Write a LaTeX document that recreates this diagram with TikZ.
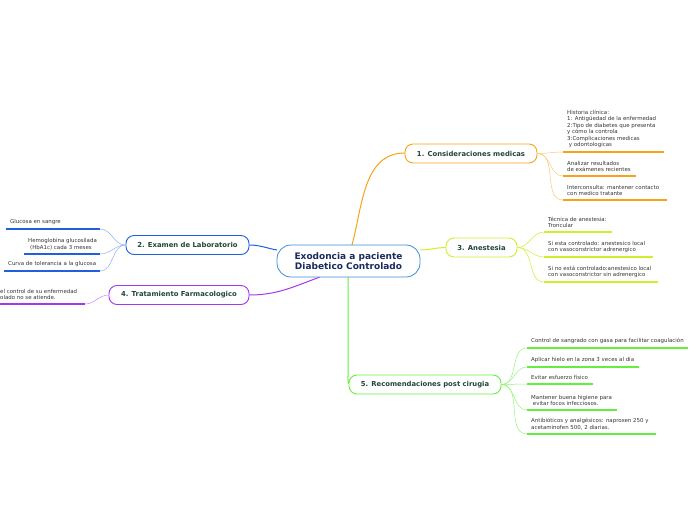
\documentclass[tikz,border=0pt]{standalone}
\usepackage{fontspec}
\setmainfont{DejaVu Sans}
\definecolor{rootline}{HTML}{3C8FD8}
\definecolor{roottext}{HTML}{1B2A5E}
\definecolor{topictext}{HTML}{21463A}
\definecolor{leaftext}{HTML}{333333}
\definecolor{orng}{HTML}{F7A21B}
\definecolor{blu}{HTML}{1F5FE0}
\definecolor{ylw}{HTML}{CFEF2E}
\definecolor{prpl}{HTML}{A636EE}
\definecolor{grn}{HTML}{66EE3F}
\tikzset{
  topic/.style={draw, line width=0.9pt, rounded corners=8pt, fill=white,
    font=\bfseries\fontsize{6.85}{7.5}\selectfont, text=topictext,
    minimum height=19pt, inner sep=2pt},
  leaf/.style={anchor=south west, align=left, inner sep=0pt,
    font=\fontsize{5.45}{6.5}\selectfont, text=leaftext},
  twig/.style={line width=0.5pt},
  uline/.style={line width=1.2pt}
}
\begin{document}
\begin{tikzpicture}[x=1pt, y=-1pt]
\useasboundingbox (0,0) rectangle (696,520);

% main branches
\draw[orng, line width=1pt] (352,245) to[out=75, in=180] (405,153);
\draw[blu, line width=1pt] (277,250) to[out=170, in=0] (249,245);
\draw[ylw, line width=1pt] (420,250) to[out=0, in=180] (446,247.5);
\draw[prpl, line width=1pt] (320,277) to[out=200, in=0] (249,295);
\draw[grn, line width=1pt] (348,277) -- (348,376) to[out=-90, in=180] (351,384.5);

\node[draw=rootline, line width=0.8pt, rounded corners=14pt, fill=white,
  minimum width=143pt, minimum height=32pt, align=center, text=roottext,
  font=\bfseries\fontsize{9}{10.5}\selectfont] (root) at (348.5,261) {Exodoncia a paciente\\Diabetico Controlado};

\node[topic, draw=orng, minimum width=132pt] (cons) at (471,153.5) {1. Consideraciones medicas};
\node[topic, draw=blu, minimum width=123pt] (exam) at (187.5,245) {2. Examen de Laboratorio};
\node[topic, draw=ylw, minimum width=71pt] (anes) at (481.5,247.5) {3. Anestesia};
\node[topic, draw=prpl, minimum width=140pt] (farm) at (179,295) {4. Tratamiento Farmacologico};
\node[topic, draw=grn, minimum width=152pt] (reco) at (425,384.5) {5. Recomendaciones post cirugia};

% 1. consideraciones
\foreach \y/\xe/\txt [count=\i] in {
  152/664/{Historia clínica:\\1: Antigüedad de la enfermedad\\2:Tipo de diabetes que presenta\\y cómo la controla\\3:Complicaciones medicas\\~y odontologicas},
  176/636/{Analizar resultados\\de exámenes recientes},
  200/667/{Interconsulta: mantener contacto\\con medico tratante}} {
  \coordinate (c\i a) at (563,\y);
  \coordinate (c\i b) at (\xe,\y);
  \draw[twig, orng!60] (cons.east) to[out=0, in=180] (c\i a);
  \draw[uline, orng] (c\i a) -- (c\i b);
  \node[leaf] (c\i) at (567,\y-4) {\txt};
}

% 2. examen
\foreach \y/\xs/\xt/\txt [count=\i] in {
  229/6/10/{Glucosa en sangre},
  254/24/28/{\hspace*{0pt}Hemoglobina glucosilada\\\hspace*{2pt}(HbA1c) cada 3 meses},
  271/4/8/{Curva de tolerancia a la glucosa}} {
  \coordinate (e\i a) at (100,\y);
  \coordinate (e\i b) at (\xs,\y);
  \draw[twig, blu!50] (exam.west) to[out=180, in=0] (e\i a);
  \draw[uline, blu] (e\i a) -- (e\i b);
  \node[leaf] (e\i) at (\xt,\y-4) {\txt};
}

% 3. anestesia
\foreach \y/\xe/\txt [count=\i] in {
  232/612/{Técnica de anestesia:\\Troncular},
  257/653/{Si esta controlado: anestesico local\\con vasoconstrictor adrenergico},
  282/658/{Si no está controlado:anestesico local\\con vasoconstrictor sin adrenergico}} {
  \coordinate (a\i a) at (544,\y);
  \coordinate (a\i b) at (\xe,\y);
  \draw[twig, ylw] (anes.east) to[out=0, in=180] (a\i a);
  \draw[uline, ylw] (a\i a) -- (a\i b);
  \node[leaf] (a\i) at (548,\y-4) {\txt};
}

% 4. tratamiento
\coordinate (f1a) at (85,304);
\coordinate (f1b) at (0,304);
\draw[twig, prpl!60] (farm.west) to[out=180, in=0] (f1a);
\draw[uline, prpl] (f1a) -- (f1b);
\node[leaf] (f1) at (0,300) {el control de su enfermedad\\olado no se atiende.};

% 5. recomendaciones
\foreach \y/\xe/\txt [count=\i] in {
  348/688/{Control de sangrado con gasa para facilitar coagulación},
  367/639/{Aplicar hielo en la zona 3 veces al día},
  384/593/{Evitar esfuerzo físico},
  410/617/{Mantener buena higiene para\\~evitar focos infecciosos.},
  434/656/{Antibióticos y analgésicos: naproxen 250 y\\acetaminofen 500, 2 diarias.}} {
  \coordinate (r\i a) at (527,\y);
  \coordinate (r\i b) at (\xe,\y);
  \draw[twig, grn!70] (reco.east) to[out=0, in=180] (r\i a);
  \draw[uline, grn] (r\i a) -- (r\i b);
  \node[leaf] (r\i) at (531,\y-4) {\txt};
}
\end{tikzpicture}
\end{document}
